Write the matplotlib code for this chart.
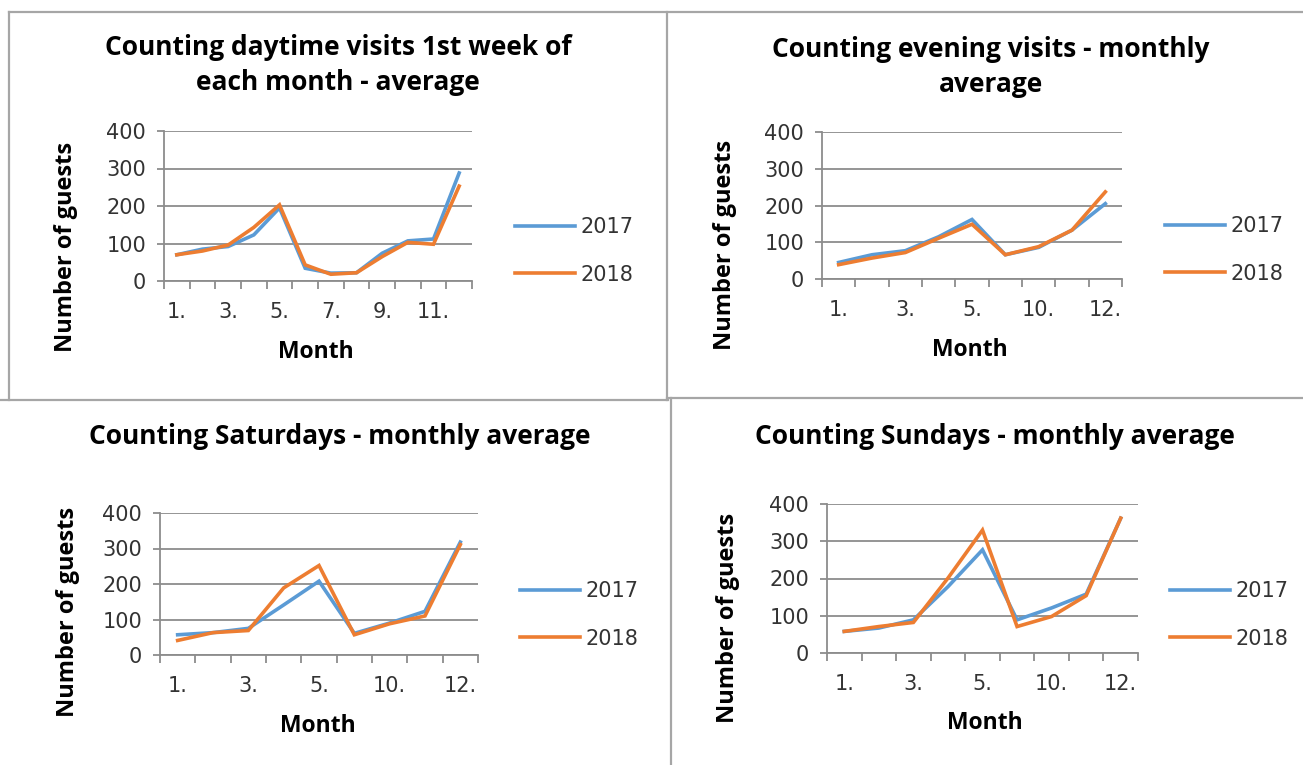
"""Four small Excel-style line charts: guest counts 2017 vs 2018."""

import matplotlib

matplotlib.use("Agg")
import matplotlib.pyplot as plt  # noqa: E402
from matplotlib.lines import Line2D  # noqa: E402

W, H = 1303, 765

# ---- data -------------------------------------------------------------
months_full = ["1.", "2.", "3.", "4.", "5.", "6.", "7.", "8.", "9.", "10.", "11.", "12."]
months_short = ["1.", "2.", "3.", "4.", "5.", "9.", "10.", "11.", "12."]

daytime_2017 = [70, 85, 92, 123, 195, 34, 21, 22, 74, 107, 112, 288]
daytime_2018 = [70, 80, 96, 143, 203, 43, 18, 22, 65, 103, 98, 253]

evening_2017 = [45, 66, 77, 115, 162, 66, 86, 133, 205]
evening_2018 = [39, 57, 72, 111, 149, 66, 88, 133, 237]

saturday_2017 = [57, 63, 75, 141, 208, 61, 90, 123, 318]
saturday_2018 = [41, 63, 69, 189, 252, 57, 88, 110, 311]

sunday_2017 = [58, 67, 89, 178, 277, 89, 121, 158, 362]
sunday_2018 = [58, 71, 82, 201, 330, 71, 98, 154, 362]

titles = [
    "Counting daytime visits 1st week of\neach month - average",
    "Counting evening visits - monthly\naverage",
    "Counting Saturdays - monthly average",
    "Counting Sundays - monthly average",
]
years = ["2017", "2018"]

BLUE = "#5B9BD5"
ORANGE = "#ED7D31"
GRID = "#8c8c8c"
BORDER = "#a6a6a6"
TITLE_FONT = ["Open Sans", "DejaVu Sans"]
TICK_FONT = ["DejaVu Sans"]
TICK_SIZE = 15


def fx(px):
    return px / W


def fy(py):
    return 1 - py / H


def panel(axbox, cats, s17, s18, title, title_xy, ylab_xy, xlab_xy, leg_xy):
    x0, yt, x1, yb = axbox
    ax = fig.add_axes([fx(x0), fy(yb), fx(x1 - x0), (yb - yt) / H])
    n = len(cats)
    xs = range(n)
    ax.plot(xs, s17, color=BLUE, lw=2.6, solid_joinstyle="miter")
    ax.plot(xs, s18, color=ORANGE, lw=2.6, solid_joinstyle="miter")
    ax.set_xlim(-0.5, n - 0.5)
    ax.set_ylim(0, 400)
    ax.set_yticks([0, 100, 200, 300, 400])
    ax.yaxis.grid(True, color=GRID, lw=1.3)
    ax.set_axisbelow(True)
    for s in ("top", "right"):
        ax.spines[s].set_visible(False)
    for s in ("left", "bottom"):
        ax.spines[s].set_color(GRID)
        ax.spines[s].set_linewidth(1.3)
    ax.set_xticks(list(xs))
    ax.set_xticklabels([c if i % 2 == 0 else "" for i, c in enumerate(cats)],
                       family=TICK_FONT, fontsize=TICK_SIZE, color="#333333")
    ax.set_xticks([i - 0.5 for i in range(n + 1)], minor=True)
    ax.tick_params(axis="x", which="major", length=0, pad=15)
    ax.tick_params(axis="x", which="minor", length=6, width=1.3, color=GRID, direction="out")
    ax.tick_params(axis="y", length=5, width=1.3, color=GRID, pad=8, labelsize=TICK_SIZE,
                   labelcolor="#333333")
    for lab in ax.get_yticklabels():
        lab.set_family(TICK_FONT)

    fig.text(fx(title_xy[0]), fy(title_xy[1]), title, ha="center", va="center",
             family=TITLE_FONT, fontweight="bold", fontsize=19, linespacing=1.4)
    fig.text(fx(ylab_xy[0]), fy(ylab_xy[1]), "Number of guests", rotation=90,
             ha="center", va="center", family=TITLE_FONT, fontweight="bold", fontsize=17)
    fig.text(fx(xlab_xy[0]), fy(xlab_xy[1]), "Month", ha="center", va="center",
             family=TITLE_FONT, fontweight="bold", fontsize=16.5)

    handles = [Line2D([], [], color=BLUE, lw=2.6), Line2D([], [], color=ORANGE, lw=2.6)]
    leg = ax.legend(handles, years, loc="center left",
                    bbox_to_anchor=(fx(leg_xy[0]), fy(leg_xy[1])),
                    bbox_transform=fig.transFigure, frameon=False, borderpad=0,
                    borderaxespad=0, handlelength=2.9, handletextpad=0.25,
                    labelspacing=1.3, prop={"family": TICK_FONT, "size": TICK_SIZE})
    for t in leg.get_texts():
        t.set_color("#333333")
    return ax


fig = plt.figure(figsize=(W / 100, H / 100), dpi=100)

panel((164, 131, 472, 281), months_full, daytime_2017, daytime_2018, titles[0],
      (338, 65), (66, 247), (316, 352), (515, 251))
panel((822, 132, 1122, 279), months_short, evening_2017, evening_2018, titles[1],
      (991, 67), (725, 245), (970, 350), (1165, 250))
panel((160, 513, 478, 655), months_short, saturday_2017, saturday_2018, titles[2],
      (340, 437), (68, 612), (318, 726), (520, 615))
panel((827, 504, 1138, 653), months_short, sunday_2017, sunday_2018, titles[3],
      (995, 437), (728, 618), (985, 723), (1170, 615))

# panel borders
border_segments = [
    ((9, 1303), (12, 12)),
    ((9, 9), (12, 400)),
    ((667, 667), (12, 400)),
    ((0, 668), (400, 400)),
    ((667, 1303), (398, 398)),
    ((671, 671), (398, 765)),
]
for xsp, ysp in border_segments:
    fig.add_artist(Line2D([fx(v) for v in xsp], [fy(v) for v in ysp],
                          color=BORDER, lw=1.6, transform=fig.transFigure))

fig.savefig("out.png", dpi=100)
plt.close(fig)
